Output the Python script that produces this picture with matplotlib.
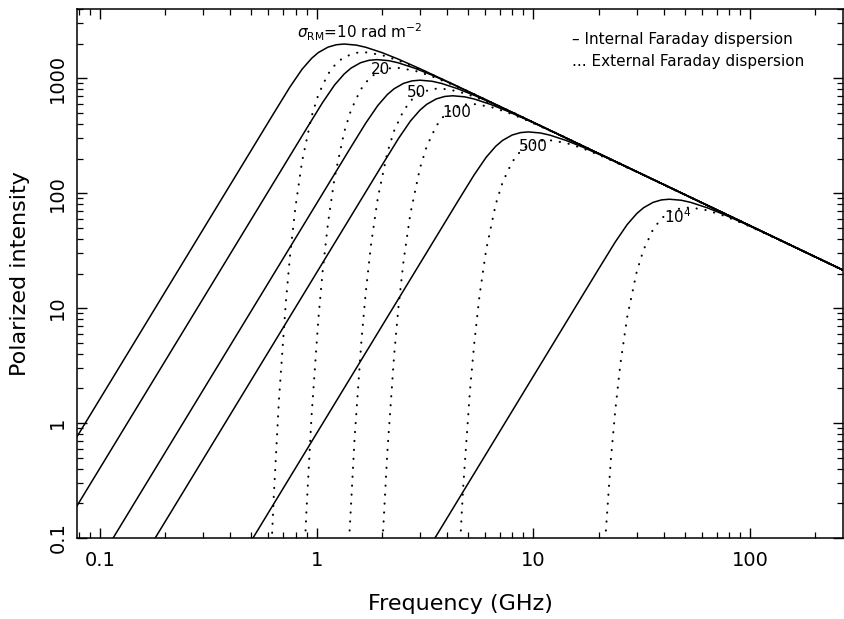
import numpy as np
import matplotlib
matplotlib.use('Agg')
import matplotlib.pyplot as plt
from matplotlib.ticker import LogLocator, NullFormatter

# Polarized intensity vs frequency (GHz, arbitrary units)
# solid = internal Faraday dispersion, dotted = external Faraday dispersion

int_10_freq = [0.02005, 0.4818, 0.6341, 0.7541, 0.8565, 0.9482, 1.0188, 1.1275, 1.2325, 1.3410,
               1.5232, 1.6864, 2.0051, 2.3846, 2.9985, 4.241, 10, 30, 100, 268]
int_10_pol = [0.01107, 211.0, 494.5, 840.6, 1194.7, 1488, 1671, 1862, 1955, 1983,
              1941, 1858, 1669, 1464, 1209, 891.6, 413.0, 153.7, 52.0, 21.4]
ext_10_freq = [0.6058, 0.6341, 0.6703, 0.7205, 0.7541, 0.7974, 0.8565, 0.9482, 1.0188, 1.1275, 1.2325,
               1.3410, 1.5232, 1.6864, 2.0051, 2.3846, 2.9985, 4.241, 10, 30, 100, 268]
ext_10_pol = [0.03164, 0.2245, 1.577, 10.93, 28.50, 73.69, 187.7, 465.9, 720.0, 1083, 1350,
              1529, 1664, 1678, 1587, 1427, 1197, 889.3, 413.0, 153.7, 52.0, 21.4]

int_20_freq = [0.02835, 0.6813, 0.8967, 1.0663, 1.2113, 1.3410, 1.4408, 1.5946, 1.7430, 1.8963,
               2.1542, 2.3846, 2.8358, 3.3728, 4.241, 5.998, 10, 30, 100, 268]
int_20_pol = [0.008104, 154.5, 362.0, 615.2, 874.4, 1089, 1223, 1363, 1431, 1451,
              1421, 1360, 1222, 1072, 885.1, 652.8, 413.0, 153.7, 52.0, 21.4]
ext_20_freq = [0.8565, 0.8967, 0.9480, 1.0188, 1.0663, 1.1275, 1.2113, 1.3410, 1.4408, 1.5946, 1.7430,
               1.8963, 2.1542, 2.3846, 2.8358, 3.3728, 4.241, 5.998, 10, 30, 100, 268]
ext_20_pol = [0.02317, 0.1643, 1.155, 7.996, 20.86, 53.94, 137.4, 341.0, 527.0, 793.3, 988.1,
              1119, 1218, 1229, 1162, 1045, 876.2, 651.1, 413.0, 153.7, 52.0, 21.4]

int_50_freq = [0.04484, 1.0773, 1.4178, 1.6864, 1.9161, 2.1208, 2.2783, 2.5206, 2.7555, 2.9985,
               3.4065, 3.7713, 4.4833, 5.3334, 6.7048, 9.482, 30, 100, 268]
int_50_pol = [0.005364, 102.3, 239.7, 407.3, 578.9, 721.1, 809.9, 902.4, 947.6, 961.0,
              940.7, 900.5, 809.0, 709.6, 586.1, 432.2, 153.7, 52.0, 21.4]
ext_50_freq = [1.3546, 1.4178, 1.4990, 1.6110, 1.6864, 1.7830, 1.9161, 2.1208, 2.2783, 2.5206, 2.7555,
               2.9985, 3.4065, 3.7713, 4.4833, 5.3334, 6.7048, 9.482, 30, 100, 268]
ext_50_pol = [0.01534, 0.1088, 0.7645, 5.294, 13.81, 35.71, 91.0, 225.7, 349.0, 525.2, 654.1,
              740.8, 806.3, 813.2, 769.4, 692.0, 580.2, 431.1, 153.7, 52.0, 21.4]

int_100_freq = [0.0634, 1.5232, 2.0051, 2.3846, 2.7088, 2.9985, 3.2222, 3.5655, 3.8974, 4.241,
                4.8184, 5.3334, 6.3392, 7.5423, 9.482, 13.41, 30, 100, 268]
int_100_pol = [0.003927, 74.88, 175.4, 298.1, 423.9, 528.0, 592.9, 660.5, 693.7, 703.4,
               688.7, 659.4, 592.2, 519.4, 429.0, 316.4, 153.7, 52.0, 21.4]
ext_100_freq = [1.9161, 2.0051, 2.1203, 2.2783, 2.3846, 2.5206, 2.7088, 2.9985, 3.2222, 3.5655, 3.8974,
                4.241, 4.8184, 5.3334, 6.3392, 7.5423, 9.482, 13.41, 30, 100, 268]
ext_100_pol = [0.01123, 0.0796, 0.5598, 3.876, 10.11, 26.15, 66.61, 165.3, 255.5, 384.5, 478.9,
               542.3, 590.5, 595.6, 563.3, 506.5, 424.7, 315.6, 153.7, 52.0, 21.4]

int_500_freq = [0.1418, 3.4065, 4.4833, 5.3334, 6.0576, 6.7048, 7.2045, 7.9726, 8.7156, 9.482,
                10.772, 11.926, 14.176, 16.865, 21.204, 29.99, 100, 268]
int_500_pol = [0.001904, 36.29, 85.04, 144.5, 205.3, 255.9, 287.3, 320.2, 336.2, 341.0,
               333.8, 319.6, 287.1, 251.8, 207.9, 153.3, 52.0, 21.4]
ext_500_freq = [4.2827, 4.4833, 4.7405, 5.0946, 5.3334, 5.6377, 6.0576, 6.7048, 7.2045, 7.9726,
                8.7156, 9.482, 10.772, 11.926, 14.176, 16.865, 21.204, 29.99, 100, 268]
ext_500_pol = [0.005442, 0.03861, 0.2713, 1.878, 4.901, 12.67, 32.28, 80.10, 123.8, 186.3,
               232.1, 262.8, 286.2, 288.6, 273.1, 245.5, 205.8, 152.9, 52.0, 21.4]

int_1e4_freq = [0.6341, 15.232, 20.051, 23.846, 27.088, 29.985, 32.222, 35.655, 38.974, 42.41,
                48.184, 53.334, 63.392, 75.423, 94.82, 134.1, 268]
int_1e4_pol = [0.000494, 9.428, 22.08, 37.53, 53.36, 66.46, 74.65, 83.16, 87.34, 88.55,
               86.70, 83.00, 74.56, 65.39, 54.01, 39.83, 21.4]
ext_1e4_freq = [19.155, 20.051, 21.203, 22.783, 23.846, 25.206, 27.088, 29.985, 32.222, 35.655,
                38.974, 42.41, 48.184, 53.334, 63.392, 75.423, 94.82, 134.1, 268]
ext_1e4_pol = [0.001414, 0.01003, 0.07046, 0.4880, 1.273, 3.292, 8.387, 20.80, 32.17, 48.39,
               60.30, 68.27, 74.33, 74.97, 70.90, 63.76, 53.46, 39.72, 21.4]

# curve labels (text, freq, intensity)
sigma_labels = ['20', '50', '100', '500', r'$10^4$']
sigma_label_freq = [1.97, 2.89, 4.43, 10.0, 46.6]
sigma_label_pol = [1197, 748, 501, 253, 63]

x_ticks = [0.1, 1, 10, 100]
x_tick_labels = ['0.1', '1', '10', '100']
y_ticks = [0.1, 1, 10, 100, 1000]
y_tick_labels = ['0.1', '1', '10', '100', '1000']

plt.rcParams['font.family'] = ['DejaVu Sans']
plt.rcParams['mathtext.fontset'] = 'dejavusans'

fig = plt.figure(figsize=(8.45, 6.19), dpi=100)
ax = fig.add_axes([77/845, 81/619, 766/845, 529/619])

internal = [(int_10_freq, int_10_pol), (int_20_freq, int_20_pol), (int_50_freq, int_50_pol),
            (int_100_freq, int_100_pol), (int_500_freq, int_500_pol), (int_1e4_freq, int_1e4_pol)]
external = [(ext_10_freq, ext_10_pol), (ext_20_freq, ext_20_pol), (ext_50_freq, ext_50_pol),
            (ext_100_freq, ext_100_pol), (ext_500_freq, ext_500_pol), (ext_1e4_freq, ext_1e4_pol)]

for f, p in internal:
    ax.plot(f, p, color='black', lw=1.1, solid_joinstyle='round')
for f, p in external:
    ax.plot(f, p, color='black', lw=1.5, linestyle=(0, (0.1, 4.2)), dash_capstyle='round')

ax.set_xscale('log')
ax.set_yscale('log')
ax.set_xlim(0.0785, 268)
ax.set_ylim(0.1, 4000)

ax.set_xticks(x_ticks, x_tick_labels)
ax.set_yticks(y_ticks, y_tick_labels)
ax.xaxis.set_minor_locator(LogLocator(base=10, subs=np.arange(2, 10)))
ax.yaxis.set_minor_locator(LogLocator(base=10, subs=np.arange(2, 10)))
ax.xaxis.set_minor_formatter(NullFormatter())
ax.yaxis.set_minor_formatter(NullFormatter())

ax.tick_params(which='both', direction='in', top=True, right=True)
ax.tick_params(which='major', length=7.2, width=1.0, labelsize=14)
ax.tick_params(which='minor', length=4, width=0.9)
ax.tick_params(axis='x', pad=9)
ax.tick_params(axis='y', pad=7, labelrotation=90)
plt.setp(ax.get_yticklabels(), va='center')
for s in ax.spines.values():
    s.set_linewidth(1.1)

ax.set_xlabel('Frequency (GHz)', fontsize=16)
ax.set_ylabel('Polarized intensity', fontsize=16)
ax.xaxis.set_label_coords(0.5, -0.105)
ax.yaxis.set_label_coords(-0.062, 0.5)

ax.text(0.81, 2230, r'$\sigma_{\rm RM}$=10 rad m$^{-2}$', fontsize=11, ha='left', va='baseline')
for lab, f, p in zip(sigma_labels, sigma_label_freq, sigma_label_pol):
    ax.text(f, p, lab, fontsize=11, ha='center', va='center')

ax.text(0.6467, 0.943, '\u2013 Internal Faraday dispersion', transform=ax.transAxes,
        fontsize=11, ha='left', va='center')
ax.text(0.6467, 0.900, '... External Faraday dispersion', transform=ax.transAxes,
        fontsize=11, ha='left', va='center')

fig.savefig('out.png', dpi=100, facecolor='white')
